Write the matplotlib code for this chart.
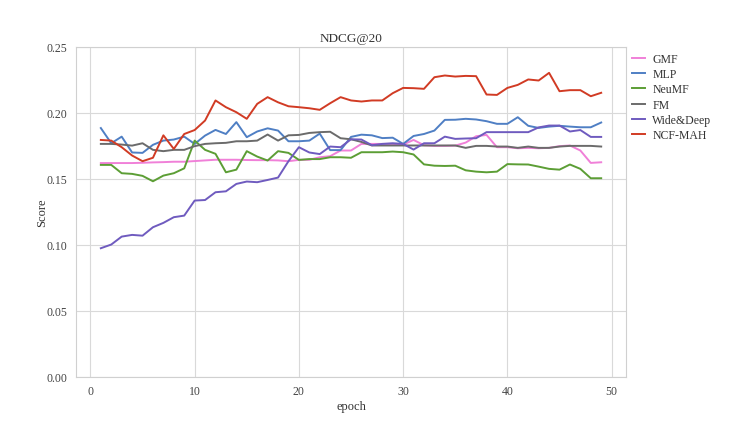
import matplotlib
matplotlib.use('Agg')
import matplotlib.pyplot as plt

plt.rcParams['font.family'] = ['Liberation Serif', 'DejaVu Serif']

epochs = list(range(1, 50))

gmf = [0.162, 0.162, 0.162, 0.162, 0.1622, 0.1625, 0.1627, 0.163, 0.163, 0.1635,
       0.164, 0.1645, 0.1645, 0.1645, 0.1643, 0.1642, 0.1642, 0.164, 0.1634, 0.1644,
       0.1645, 0.1664, 0.1672, 0.1715, 0.1715, 0.1765, 0.1765, 0.1765, 0.1765, 0.176,
       0.1795, 0.1755, 0.175, 0.175, 0.1752, 0.1775, 0.1823, 0.1833, 0.174, 0.174,
       0.1732, 0.1735, 0.1732, 0.1735, 0.1748, 0.1753, 0.1715, 0.1621, 0.1626]
mlp = [0.1885, 0.177, 0.182, 0.170, 0.1697, 0.1758, 0.179, 0.1798, 0.182, 0.1765,
       0.1828, 0.1871, 0.184, 0.193, 0.1816, 0.1859, 0.1883, 0.1866, 0.1785, 0.1785,
       0.179, 0.1843, 0.1718, 0.1718, 0.1818, 0.1835, 0.183, 0.1809, 0.1812, 0.1765,
       0.1825, 0.184, 0.1866, 0.1947, 0.1948, 0.1955, 0.195, 0.1937, 0.1917, 0.1917,
       0.1967, 0.1902, 0.1886, 0.1896, 0.1902, 0.1896, 0.1891, 0.1891, 0.1927]
neumf = [0.1606, 0.1606, 0.1543, 0.1538, 0.1523, 0.1482, 0.1525, 0.1543, 0.158, 0.179,
         0.172, 0.169, 0.155, 0.157, 0.171, 0.1669, 0.1639, 0.171, 0.1697, 0.1644,
         0.165, 0.165, 0.1664, 0.1664, 0.166, 0.1702, 0.1702, 0.1702, 0.1707, 0.1702,
         0.1685, 0.161, 0.16, 0.1598, 0.16, 0.1565, 0.1555, 0.155, 0.1555, 0.1612,
         0.161, 0.1609, 0.1593, 0.1576, 0.157, 0.1609, 0.1576, 0.1505, 0.1505]
fm = [0.1765, 0.1765, 0.176, 0.1752, 0.177, 0.172, 0.171, 0.172, 0.172, 0.1748,
      0.1765, 0.177, 0.1773, 0.1785, 0.1785, 0.179, 0.1836, 0.179, 0.183, 0.1833,
      0.1848, 0.1854, 0.1857, 0.1808, 0.18, 0.178, 0.1753, 0.1753, 0.1753, 0.1753,
      0.1753, 0.1753, 0.1753, 0.1753, 0.1753, 0.1735, 0.175, 0.175, 0.1745, 0.1745,
      0.1735, 0.1745, 0.1735, 0.1735, 0.1745, 0.175, 0.175, 0.175, 0.1745]
wide_deep = [0.0975, 0.1003, 0.1063, 0.1076, 0.107, 0.1134, 0.1167, 0.121, 0.1222, 0.1336,
             0.134, 0.1399, 0.1406, 0.1462, 0.148, 0.1475, 0.1492, 0.151, 0.1634, 0.174,
             0.17, 0.1688, 0.1745, 0.174, 0.18, 0.1798, 0.1755, 0.1765, 0.177, 0.1765,
             0.1722, 0.177, 0.177, 0.182, 0.1803, 0.1806, 0.1808, 0.1854, 0.1854, 0.1854,
             0.1854, 0.1854, 0.189, 0.1904, 0.1904, 0.1859, 0.187, 0.1818, 0.1818]
ncf_mah = [0.1795, 0.179, 0.174, 0.1677, 0.1634, 0.166, 0.183, 0.1727, 0.184, 0.187,
           0.1942, 0.2094, 0.2043, 0.2005, 0.1955, 0.2068, 0.2119, 0.208, 0.205, 0.2043,
           0.2035, 0.2023, 0.2073, 0.2119, 0.2094, 0.2086, 0.2094, 0.2094, 0.2149, 0.2189,
           0.2187, 0.2182, 0.227, 0.2283, 0.2275, 0.228, 0.2278, 0.2139, 0.2136, 0.2189,
           0.2212, 0.2253, 0.2245, 0.2303, 0.2164, 0.2172, 0.2172, 0.2126, 0.2152]

series = [
    ('GMF', gmf, '#f080d8'),
    ('MLP', mlp, '#4f7fc4'),
    ('NeuMF', neumf, '#5c9e35'),
    ('FM', fm, '#6b6b6b'),
    ('Wide&Deep', wide_deep, '#6f5bbf'),
    ('NCF-MAH', ncf_mah, '#d13b24'),
]


def main():
    fig = plt.figure(figsize=(7.29, 4.31), dpi=100)
    ax = fig.add_axes([0.104, 0.123, 0.755, 0.766])

    for name, vals, color in series:
        ax.plot(epochs, vals, color=color, lw=1.4, label=name)

    ax.set_ylim(0, 0.25)
    ax.set_yticks([0.0, 0.05, 0.10, 0.15, 0.20, 0.25])
    ax.set_yticklabels(['0.00', '0.05', '0.10', '0.15', '0.20', '0.25'])
    ax.set_xticks([0, 10, 20, 30, 40, 50])

    ax.grid(True, color='#d9d9d9', lw=0.8)
    ax.set_axisbelow(True)
    for sp in ax.spines.values():
        sp.set_color('#d0d0d0')
    ax.tick_params(length=0, labelsize=8.5, colors='#444444', pad=6)

    ax.set_title('NDCG@20', fontsize=9.5, color='#333333', pad=4)
    ax.set_xlabel('epoch', fontsize=9, color='#333333', labelpad=2)
    ax.set_ylabel('Score', fontsize=9, color='#333333', labelpad=-1)

    ax.legend(loc='upper left', bbox_to_anchor=(1.0, 1.0), frameon=False,
              fontsize=8.5, handlelength=1.1, handletextpad=0.6, labelspacing=0.28,
              borderaxespad=0.1, labelcolor='#333333')

    fig.savefig('out.png', dpi=100)


if __name__ == '__main__':
    main()
